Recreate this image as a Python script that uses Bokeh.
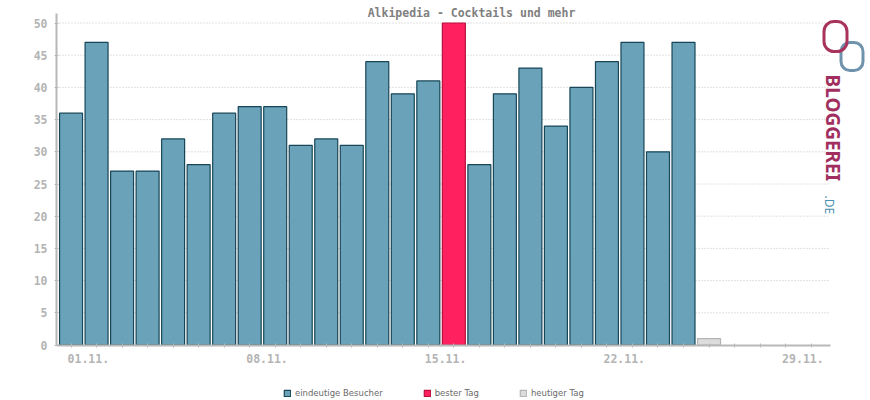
import math
from bokeh.plotting import figure
from bokeh.models import (ColumnDataSource, Range1d, SingleIntervalTicker, FixedTicker,
                          Legend, LegendItem)
from bokeh.core.properties import value
from bokeh.embed import file_html
from bokeh.resources import INLINE

# ---- data ----
title_text = "Alkipedia - Cocktails und mehr"
days = list(range(1, 31))
visitors = [36, 47, 27, 27, 32, 28, 36, 37, 37, 31, 32, 31, 44, 39, 41,
            50, 28, 39, 43, 34, 40, 44, 47, 30, 47]
best_day = 16
today_day = 26
today_value = 1
tick_labels = {1: "01.11.", 8: "08.11.", 15: "15.11.", 22: "22.11.", 29: "29.11."}
legend_labels = ["eindeutige Besucher", "bester Tag", "heutiger Tag"]
grid_values = list(range(5, 51, 5))

normal_x = [d for d, v in zip(days, visitors) if d != best_day]
normal_y = [v for d, v in zip(days, visitors) if d != best_day]
best_y = [visitors[best_day - 1]]

src_norm = ColumnDataSource(dict(x=normal_x, top=normal_y))
src_best = ColumnDataSource(dict(x=[best_day], top=best_y))
src_today = ColumnDataSource(dict(x=[today_day], top=[today_value]))

# ---- geometry ----
X0, X1 = 0.43, 30.76          # extent of the real x axis (days)
Y1 = 51.55                    # top of the y axis
FRAME_W, FRAME_H = 814, 400   # frame spans canvas x 56..870, y 0..400
BASE = 344.5                  # canvas y of value 0
px_per_day = 774 / (X1 - X0)
px_per_unit = 322 / 50.0

p = figure(width=870, height=400, frame_width=FRAME_W, frame_height=FRAME_H,
           min_border_left=56, min_border_right=0, min_border_top=0, min_border_bottom=0,
           output_backend="svg", toolbar_location=None,
           x_range=Range1d(X0, X0 + FRAME_W / px_per_day),
           y_range=Range1d(-(FRAME_H - BASE) / px_per_unit, BASE / px_per_unit))
p.outline_line_color = None
p.background_fill_color = "white"
p.border_fill_color = "white"
# pixel-like ranges for the decorations (title, logo)
p.extra_x_ranges = {"px": Range1d(56, 870)}
p.extra_y_ranges = {"px": Range1d(FRAME_H, 0)}

# horizontal dotted grid, limited to the axis extent
p.xgrid.grid_line_color = None
p.ygrid.grid_line_color = None
p.segment(x0=[X0] * len(grid_values), x1=[X1] * len(grid_values),
          y0=grid_values, y1=grid_values,
          line_color="#c4c4c4", line_dash="1 2", line_width=1)

r1 = p.vbar(x="x", top="top", width=0.9, bottom=0, source=src_norm,
            fill_color="#6aa2ba", line_color="#174657", line_width=1.2)
r2 = p.vbar(x="x", top="top", width=0.9, bottom=0, source=src_best,
            fill_color="#ff2060", line_color="#b8103e", line_width=1.2)
r3 = p.vbar(x="x", top="top", width=0.9, bottom=0, source=src_today,
            fill_color="#dcdcdc", line_color="#b4b4b4", line_width=1.2)

# axes
p.yaxis.ticker = SingleIntervalTicker(interval=5)
p.yaxis.bounds = (0, Y1)
p.xaxis.ticker = FixedTicker(ticks=days)
p.xaxis.bounds = (X0, X1)
p.xaxis.fixed_location = 0
# labels start just left of their tick (shifted with leading no-break spaces)
PAD = "\u00a0" * 5
p.xaxis.major_label_overrides = {d: (PAD + tick_labels[d]) if d in tick_labels else ""
                                 for d in days}

for ax in (p.xaxis[0], p.yaxis[0]):
    ax.axis_line_color = "#b8b8b8"
    ax.axis_line_width = 2
    ax.major_tick_line_color = "#b8b8b8"
    ax.major_tick_line_width = 1
    ax.major_tick_in = 2
    ax.major_tick_out = 2
    ax.minor_tick_line_color = None
    ax.major_label_text_color = "#b4b4b4"
    ax.major_label_text_font = "DejaVu Sans Mono"
    ax.major_label_text_font_size = "11.5px"
    ax.major_label_text_font_style = "bold"

p.yaxis.major_label_standoff = 5
p.xaxis.major_label_standoff = 5

# title
p.text(x=[471], y=[12], text=[title_text], x_range_name="px", y_range_name="px",
       text_align="center", text_baseline="middle",
       text_font=value("DejaVu Sans Mono"), text_font_style="bold",
       text_font_size="11.5px", text_color="#808080")

# legend
legend = Legend(items=[LegendItem(label=legend_labels[0], renderers=[r1]),
                       LegendItem(label=legend_labels[1], renderers=[r2]),
                       LegendItem(label=legend_labels[2], renderers=[r3])],
                orientation="horizontal", location=(283 - 56, FRAME_H - 398),
                glyph_width=8, glyph_height=8, label_height=10, label_standoff=4,
                spacing=40, padding=1, margin=0,
                border_line_color=None, background_fill_alpha=0,
                label_text_font="DejaVu Sans", label_text_font_size="8.5px",
                label_text_color="#6a6a6a")
p.add_layout(legend)

# logo (decorative)
p.quad(left=[840.5], right=[862.5], top=[42], bottom=[70], x_range_name="px", y_range_name="px",
       fill_color=None, line_color="#6f93ac", line_width=3, border_radius=9)
p.quad(left=[823.5], right=[846.5], top=[21], bottom=[51], x_range_name="px", y_range_name="px",
       fill_color=None, line_color="#a8345e", line_width=3, border_radius=10)
p.text(x=[832.5], y=[74], text=["BLOGGEREI"], x_range_name="px", y_range_name="px",
       angle=-math.pi / 2, text_align="left", text_baseline="middle",
       text_font=value("Noto Sans"), text_font_style="bold",
       text_font_size="19px", text_color="#a02e5e")
p.text(x=[828.5], y=[195], text=[".DE"], x_range_name="px", y_range_name="px",
       angle=-math.pi / 2, text_align="left", text_baseline="middle",
       text_font=value("Noto Sans"), text_font_size="12px", text_color="#4a8fb0")

open("out.html", "w").write(file_html(p, INLINE))
